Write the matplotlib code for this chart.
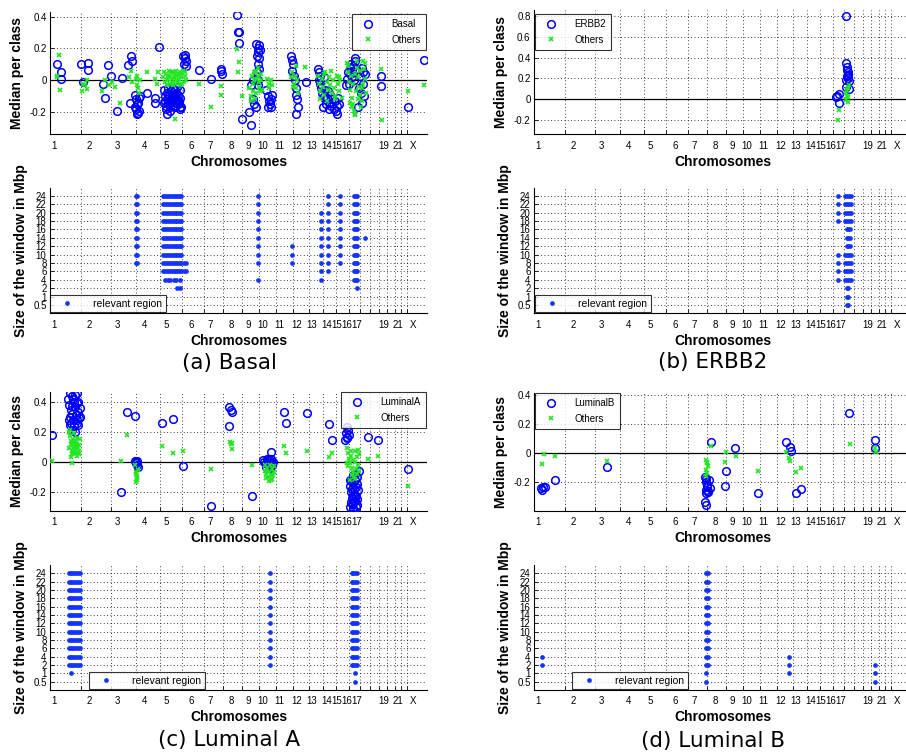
import numpy as np
import matplotlib.pyplot as plt

plt.rcParams['font.family'] = ['Liberation Sans', 'DejaVu Sans']

# chromosome lengths (Mbp, hg18) -> boundaries on the genome axis
chrom_len = [247, 243, 199, 191, 181, 171, 159, 146, 140, 135, 134, 132,
             114, 106, 100, 89, 79, 76, 64, 62, 47, 50, 155]
chrom_start = np.concatenate([[0], np.cumsum(chrom_len)[:-1]])

tick_labels = ['1', '2', '3', '4', '5', '6', '7', '8', '9', '10', '11', '12',
               '13', '14', '15', '16', '17', '19', '21', 'X']
tick_pos = [32, 316, 544, 757, 932, 1130, 1285, 1454, 1593, 1705, 1839, 1976,
            2102, 2217, 2303, 2383, 2463, 2677, 2793, 2913]

win_sizes = [0.5, 1, 2, 4, 6, 8, 10, 12, 14, 16, 18, 20, 22, 24]
win_labels = ['0.5', '1', '2', '4', '6', '8', '10', '12', '14', '16', '18', '20', '22', '24']

# ---------------- (a) Basal ----------------
basal_class = [
    (53, 0.10), (85, 0.05), (85, 0.01),
    (246, 0.10), (305, 0.11), (302, 0.065), (267, -0.01),
    (422, -0.02), (441, -0.11), (462, 0.095), (489, 0.03), (534, -0.195), (574, 0.013),
    (628, 0.095), (649, 0.153), (654, 0.12), (641, -0.145),
    (685, -0.09), (694, -0.12), (700, -0.15), (694, -0.18), (708, -0.205), (716, -0.11),
    (685, -0.17), (708, -0.14), (721, -0.10), (700, -0.21), (716, -0.19),
    (775, -0.08), (841, -0.11), (841, -0.14), (876, 0.21),
    (915, -0.06), (920, -0.10), (925, -0.13), (930, -0.16), (935, -0.08), (940, -0.12),
    (945, -0.15), (950, -0.05), (955, -0.10), (960, -0.14), (965, -0.17), (970, -0.07),
    (975, -0.11), (980, -0.13), (985, -0.09), (990, -0.16), (995, -0.12), (1000, -0.06),
    (1005, -0.10), (1010, -0.14), (1015, -0.08), (1020, -0.12), (1025, -0.15), (1030, -0.09),
    (1035, -0.13), (1040, -0.06), (1045, -0.11), (1050, -0.17), (930, -0.18), (960, -0.19),
    (1000, -0.17), (935, -0.21), (1045, -0.18), (1038, -0.14), (912, -0.14), (950, -0.13),
    (985, -0.05), (1020, -0.04),
    (1068, 0.15), (1080, 0.16), (1090, 0.12), (1075, 0.10), (1095, 0.09), (1085, 0.14),
    (1043, -0.165), (1194, 0.065),
    (1295, 0.01), (1372, 0.07), (1375, 0.06), (1380, 0.04),
    (1503, 0.41), (1505, 0.305), (1517, 0.305), (1517, 0.232), (1538, -0.243),
    (1597, -0.20), (1615, -0.28), (1629, -0.12), (1650, -0.17), (1640, -0.15), (1625, 0.005),
    (1615, -0.03),
    (1656, 0.23), (1665, 0.20), (1669, 0.18), (1675, 0.22), (1660, 0.15), (1678, 0.14),
    (1682, 0.19), (1670, 0.10), (1680, 0.07), (1662, 0.05), (1672, 0.0), (1665, -0.03),
    (1736, -0.06), (1749, -0.10), (1755, -0.13), (1762, -0.15), (1770, -0.17), (1749, -0.17),
    (1784, -0.09), (1776, -0.12),
    (1936, 0.15), (1940, 0.13), (1950, 0.10), (1945, 0.06), (1955, 0.03), (1963, 0.0),
    (1970, -0.05), (1976, -0.09), (1985, -0.12), (1990, -0.17), (1976, -0.21), (2051, -0.01),
    (2150, 0.07), (2160, 0.05), (2170, 0.03), (2155, 0.0), (2165, -0.02), (2175, -0.05),
    (2185, -0.08), (2195, -0.10), (2205, -0.12), (2215, -0.15), (2225, -0.11), (2235, -0.14),
    (2245, -0.09), (2255, -0.16), (2265, -0.12), (2275, -0.18), (2190, -0.17), (2210, -0.06),
    (2240, -0.18), (2285, -0.13), (2295, -0.19), (2300, -0.16), (2305, -0.21), (2310, -0.11),
    (2320, -0.15), (2200, 0.02), (2230, -0.07),
    (2377, -0.03), (2385, 0.01), (2395, 0.05), (2405, 0.08), (2415, 0.10), (2425, 0.06),
    (2435, 0.03), (2445, 0.12), (2450, 0.14), (2430, 0.09), (2410, 0.04), (2440, 0.0),
    (2455, 0.07), (2400, -0.02), (2420, 0.02),
    (2470, -0.17), (2480, -0.05), (2490, 0.03), (2500, 0.08), (2505, -0.14), (2510, 0.05),
    (2520, -0.10), (2530, 0.04), (2515, -0.02), (2495, -0.08),
    (2657, 0.03), (2657, -0.035), (2871, -0.17), (2997, 0.125),
]
basal_others = [
    (75, 0.16), (53, 0.03), (80, -0.06), (60, 0.02),
    (254, -0.07), (299, -0.055), (299, 0.0), (267, -0.02), (280, -0.03),
    (420, -0.07), (440, 0.0), (475, -0.03), (520, -0.04), (560, -0.14), (500, -0.01),
    (630, 0.02), (650, 0.06), (655, -0.01), (690, 0.01), (700, -0.03), (710, -0.05),
    (720, 0.0), (715, -0.08), (700, 0.03),
    (775, 0.05), (841, 0.01), (870, 0.05), (860, -0.02),
    (910, 0.02), (920, -0.01), (930, 0.04), (940, 0.0), (950, 0.03), (960, -0.02),
    (970, 0.05), (980, 0.01), (990, -0.03), (1000, 0.04), (1010, 0.0), (1020, 0.03),
    (1030, -0.01), (1040, 0.05), (1050, 0.02), (1060, -0.02), (1070, 0.06), (1080, 0.03),
    (1090, 0.0), (915, 0.05), (935, -0.03), (955, 0.06), (975, -0.01), (995, 0.02),
    (1015, 0.06), (1035, 0.01), (1055, 0.04), (1075, -0.01), (1085, 0.05), (945, 0.01),
    (965, 0.03), (985, 0.05), (1005, -0.02), (1025, 0.04), (1045, -0.03), (1000, -0.245),
    (1194, -0.02), (1295, -0.17), (1372, -0.035), (1372, -0.09),
    (1503, 0.197), (1514, 0.117), (1511, 0.05), (1538, -0.10),
    (1600, -0.05), (1610, -0.10), (1620, 0.03), (1630, -0.02), (1640, 0.05), (1650, -0.08),
    (1660, 0.01), (1670, 0.08), (1680, -0.04), (1690, 0.04), (1700, -0.06), (1615, -0.13),
    (1635, 0.0), (1655, 0.06), (1675, -0.01), (1695, 0.0), (1625, -0.07), (1645, -0.12),
    (1665, 0.03), (1685, -0.07),
    (1740, 0.01), (1755, -0.02), (1770, 0.0), (1785, -0.03), (1760, -0.05),
    (1936, 0.02), (1945, 0.05), (1955, -0.02), (1965, 0.03), (1975, -0.05), (1985, 0.0),
    (1990, -0.08), (1970, 0.09), (1950, -0.04), (2045, 0.085),
    (2150, 0.03), (2160, -0.02), (2170, -0.07), (2180, 0.01), (2190, -0.04), (2200, -0.09),
    (2210, 0.05), (2220, -0.01), (2230, -0.06), (2240, 0.02), (2250, -0.03), (2260, -0.08),
    (2270, 0.0), (2280, -0.05), (2290, -0.10), (2300, 0.03), (2310, -0.02), (2320, -0.07),
    (2330, 0.0), (2340, -0.11), (2165, -0.12), (2195, 0.04), (2225, -0.13), (2255, 0.06),
    (2285, -0.12), (2315, 0.02),
    (2380, 0.11), (2390, 0.05), (2400, -0.01), (2410, -0.06), (2420, -0.11), (2430, -0.15),
    (2440, -0.19), (2450, -0.21), (2460, 0.08), (2470, 0.02), (2480, -0.04), (2490, -0.09),
    (2500, -0.13), (2510, 0.12), (2520, 0.07), (2530, 0.01), (2535, -0.08), (2395, 0.09),
    (2415, 0.03), (2435, -0.02), (2455, -0.07), (2475, -0.12), (2495, -0.17), (2445, -0.22),
    (2465, 0.12), (2485, 0.06), (2505, -0.05), (2425, -0.17), (2525, 0.11), (2515, -0.02),
    (2405, -0.14), (2445, 0.04),
    (2657, 0.07), (2665, -0.25), (2871, -0.065), (2997, -0.03),
]
basal_regions = [
    ([688, 702], [8, 10, 12, 14, 16, 18, 20, 22, 24]),
    ([910, 925, 940, 955, 970, 985, 1000, 1015, 1030, 1045, 1055], [6, 8, 10, 12, 14, 16, 18, 20, 22, 24]),
    ([1075, 1095], [6, 8]),
    ([925, 945, 965, 995, 1015, 1040], [4]),
    ([1020, 1045], [2]),
    ([1672], [4, 8, 10, 12, 14, 16, 18, 20, 22, 24]),
    ([1938], [8, 10, 12]),
    ([2178], [4, 6, 8, 10, 12, 14, 16, 18, 20]),
    ([2230], [6, 8, 10, 12, 14, 16, 18, 20, 22, 24]),
    ([2328], [8, 10, 12, 14, 16, 18, 20, 22, 24]),
    ([2440, 2452, 2464], [4, 6, 8, 10, 12, 14, 16, 18, 20, 22, 24]),
    ([2462], [2]),
    ([2528], [14]),
]

# ---------------- (b) ERBB2 ----------------
erbb2_class = [
    (2505, 0.806), (2500, 0.35), (2512, 0.31), (2518, 0.26), (2512, 0.22), (2525, 0.17),
    (2506, 0.18), (2525, 0.10), (2505, 0.12), (2520, 0.23), (2515, 0.28), (2522, 0.20),
    (2425, 0.02), (2447, 0.05), (2444, -0.04), (2432, 0.03),
]
erbb2_others = [
    (2444, -0.105), (2440, -0.20), (2505, -0.01), (2518, 0.02), (2512, 0.09), (2525, 0.135),
    (2505, 0.055), (2518, -0.025), (2510, 0.03), (2522, 0.11),
]
erbb2_regions = [
    ([2439], [4, 6, 8, 10, 18, 20, 22, 24]),
    ([2495, 2510, 2525, 2540], [4, 6, 8, 10, 18, 20, 22, 24]),
    ([2508, 2522, 2536], [12, 14, 16]),
    ([2508, 2522], [0.5, 1, 2]),
]

# ---------------- (c) Luminal A ----------------
luma_class = [
    (19, 0.178),
    (147, 0.42), (160, 0.455), (174, 0.435), (200, 0.445), (214, 0.46), (155, 0.38),
    (168, 0.345), (180, 0.32), (200, 0.365), (214, 0.39), (227, 0.40), (160, 0.30),
    (187, 0.28), (207, 0.31), (227, 0.33), (240, 0.36), (165, 0.255), (190, 0.235),
    (214, 0.255), (235, 0.29), (174, 0.21), (200, 0.20), (227, 0.245), (160, 0.245),
    (180, 0.37), (194, 0.40), (220, 0.28), (240, 0.30), (150, 0.28), (187, 0.42),
    (614, 0.333), (681, 0.304), (569, -0.204),
    (681, 0.007), (694, 0.0), (700, -0.022), (690, -0.011), (708, -0.033), (702, 0.005),
    (895, 0.256), (988, 0.282), (1068, -0.029), (1295, -0.293), (1437, 0.362),
    (1450, 0.345), (1464, 0.33), (1437, 0.24), (1624, -0.229),
    (1709, 0.012), (1720, 0.0), (1730, -0.01), (1740, 0.015), (1750, -0.02), (1760, 0.005),
    (1770, -0.03), (1780, -0.01), (1790, 0.0), (1735, -0.035), (1755, 0.02), (1775, 0.018),
    (1765, -0.04), (1745, -0.005), (1776, 0.067), (1785, -0.025),
    (1875, 0.333), (1896, 0.26), (2062, 0.327), (2238, 0.251), (2262, 0.144),
    (2382, 0.233), (2374, 0.19), (2387, 0.167), (2366, 0.144), (2400, 0.178), (2395, 0.21),
    (2380, 0.155),
    (2405, -0.12), (2410, -0.16), (2415, -0.20), (2420, -0.24), (2425, -0.28), (2430, -0.31),
    (2435, -0.14), (2440, -0.18), (2445, -0.22), (2450, -0.26), (2455, -0.30), (2460, -0.10),
    (2465, -0.15), (2470, -0.19), (2412, -0.27), (2428, -0.22), (2442, -0.32), (2448, -0.08),
    (2458, -0.23), (2418, -0.13), (2436, -0.26), (2452, -0.17), (2466, -0.25), (2424, -0.18),
    (2408, -0.30), (2478, -0.06), (2444, -0.12), (2462, -0.29), (2432, -0.09),
    (2550, 0.162), (2630, 0.144), (2871, -0.051),
]
luma_others = [
    (19, 0.004),
    (150, 0.20), (160, 0.17), (170, 0.14), (180, 0.12), (190, 0.10), (200, 0.08),
    (210, 0.06), (220, 0.04), (230, 0.11), (240, 0.15), (155, 0.09), (165, 0.12),
    (175, 0.07), (185, 0.15), (195, 0.13), (205, 0.10), (215, 0.16), (225, 0.09),
    (235, 0.07), (168, 0.03), (180, -0.01), (175, 0.05), (200, 0.12), (210, 0.14),
    (190, 0.06), (220, 0.12), (160, 0.21), (230, 0.05), (185, 0.09), (195, 0.19),
    (569, 0.004), (614, 0.178),
    (681, -0.02), (690, -0.085), (697, -0.096), (702, -0.111), (688, -0.133), (708, -0.056),
    (700, -0.12), (694, -0.07),
    (895, 0.107), (988, 0.06), (1068, 0.073), (1295, -0.051), (1445, 0.133), (1458, 0.122),
    (1464, 0.084), (1450, 0.115), (1624, -0.022),
    (1722, -0.06), (1730, -0.08), (1740, -0.04), (1750, -0.10), (1760, -0.07), (1770, -0.12),
    (1780, -0.05), (1790, -0.09), (1800, -0.03), (1735, -0.11), (1755, -0.13), (1765, -0.02),
    (1775, -0.09), (1785, -0.115), (1745, -0.065), (1795, -0.07), (1728, -0.02),
    (1875, 0.104), (1896, 0.056), (2062, 0.073), (2238, 0.033), (2262, 0.056),
    (2380, 0.089), (2390, 0.06), (2400, 0.02), (2410, -0.01), (2420, -0.04), (2430, -0.07),
    (2440, -0.10), (2450, 0.07), (2460, 0.03), (2470, -0.02), (2480, -0.06), (2395, -0.03),
    (2415, 0.04), (2435, 0.01), (2455, -0.05), (2475, 0.08), (2425, -0.09), (2445, 0.0),
    (2465, -0.08), (2405, -0.12), (2385, -0.01), (2450, -0.115), (2478, 0.05), (2412, 0.07),
    (2550, 0.016), (2630, 0.038), (2871, -0.162),
]
luma_regions = [
    ([150, 165, 180, 195, 210, 225, 237], [2, 4, 6, 8, 10, 12, 14, 16, 18, 20, 22, 24]),
    ([170], [1]),
    ([1766], [2, 4, 6, 8, 10, 12, 14, 16, 18, 20, 22, 24]),
    ([2420, 2435, 2450, 2465], [2, 4, 6, 8, 10, 12, 14, 16, 18, 20, 22, 24]),
    ([2451], [0.5, 1]),
]

# ---------------- (d) Luminal B ----------------
lumb_class = [
    (53, -0.244), (69, -0.237), (88, -0.232), (61, -0.255), (168, -0.186), (585, -0.094),
    (1376, -0.163), (1384, -0.198), (1389, -0.233), (1378, -0.255), (1397, -0.267),
    (1384, -0.278), (1376, -0.336), (1384, -0.359), (1405, -0.186), (1410, -0.244),
    (1392, -0.22), (1400, -0.26), (1380, -0.18),
    (1418, 0.076), (1538, -0.122), (1536, -0.225), (1616, 0.037), (1800, -0.278),
    (2025, 0.076), (2051, 0.044), (2059, 0.014), (2099, -0.274), (2145, -0.25),
    (2527, 0.274), (2740, 0.09), (2740, 0.037),
]
lumb_others = [
    (61, -0.076), (80, -0.007), (168, -0.021), (585, -0.053),
    (1384, -0.048), (1389, -0.071), (1397, -0.090), (1384, -0.117), (1392, -0.14),
    (1378, -0.156), (1386, -0.06),
    (1418, 0.048), (1538, 0.009), (1536, -0.06), (1624, -0.018), (1800, -0.122),
    (2025, 0.009), (2046, -0.037), (2051, -0.055), (2099, -0.129), (2145, -0.106),
    (2532, 0.06), (2740, 0.032), (2745, 0.009),
]
lumb_regions = [
    ([61], [2, 4]),
    ([1384, 1395], [2, 4, 6, 8, 10, 12, 14, 16, 18, 20, 22, 24]),
    ([1384], [0.5, 1]),
    ([2046], [1, 2, 4]),
    ([2740], [0.5, 1, 2]),
]

W, H = 906, 752
fig = plt.figure(figsize=(W / 100, H / 100), dpi=100)

BLUE = '#0000ff'
GREEN = '#22e622'
DOT = '#1433ff'
GRID = dict(color='k', linestyle=(0, (1, 3)), linewidth=0.6)


def px_box(l, t, r, b):
    return [l / W, 1 - b / H, (r - l) / W, (b - t) / H]


def style_axes(ax):
    ax.set_xlim(0, 3025)
    ax.set_xticks(chrom_start[1:])
    ax.set_xticklabels([])
    ax.set_xticks(tick_pos, minor=True)
    ax.set_xticklabels(tick_labels, minor=True)
    ax.tick_params(which='major', direction='in', length=3, width=0.6, labelsize=7)
    ax.tick_params(axis='x', which='minor', length=0, pad=4.5, labelsize=7)
    ax.tick_params(axis='y', pad=2.5)
    ax.grid(True, which='major', **GRID)
    for s in ['top', 'right']:
        ax.spines[s].set_visible(False)
    for s in ['left', 'bottom']:
        ax.spines[s].set_linewidth(0.8)
    ax.set_axisbelow(True)
    ax.set_xlabel('Chromosomes', fontsize=10, fontweight='bold', labelpad=3)


def top_panel(box, ylim, yticks, cls, oth, name, leg):
    ax = fig.add_axes(px_box(*box))
    style_axes(ax)
    ax.axhline(0, color='k', lw=0.9, zorder=1.5)
    cx, cy = zip(*cls)
    ox, oy = zip(*oth)
    ax.plot(cx, cy, 'o', mfc='none', mec=BLUE, ms=5.5, mew=1.1, label=name, zorder=3)
    ax.plot(ox, oy, 'x', color=GREEN, ms=3.5, mew=1.2, label='Others', zorder=3)
    ax.set_ylim(*ylim)
    ax.set_yticks(yticks)
    ax.set_yticklabels(['%g' % v for v in yticks])
    ax.set_ylabel('Median per class', fontsize=10, fontweight='bold', labelpad=4)
    lg = ax.legend(loc=leg[0], bbox_to_anchor=(leg[1] / W, 1 - leg[2] / H),
                   bbox_transform=fig.transFigure, fontsize=7, frameon=True,
                   fancybox=False, borderaxespad=0, borderpad=0.55, handlelength=2.2,
                   handletextpad=1.3, labelspacing=0.55)
    lg.get_frame().set_edgecolor('k')
    lg.get_frame().set_linewidth(0.8)
    return ax


def bottom_panel(box, ylim, regions, leg):
    ax = fig.add_axes(px_box(*box))
    style_axes(ax)
    first = True
    for xs, levels in regions:
        for lv in levels:
            idx = win_sizes.index(lv)
            ax.plot(xs, [idx] * len(xs), 'o', color=DOT, ms=3.4, mec='none', zorder=3,
                    label='relevant region' if first else None)
            first = False
    ax.set_ylim(*ylim)
    ax.set_yticks(range(len(win_sizes)))
    ax.set_yticklabels(win_labels)
    ax.set_ylabel('Size of the window in Mbp', fontsize=10, fontweight='bold', labelpad=4)
    lg = ax.legend(loc='upper left', bbox_to_anchor=(leg[0] / W, 1 - leg[1] / H),
                   bbox_transform=fig.transFigure, fontsize=7.5, frameon=True,
                   fancybox=False, borderaxespad=0, borderpad=0.35, handlelength=2.6,
                   handletextpad=1.2, markerscale=1.0)
    lg.get_frame().set_edgecolor('k')
    lg.get_frame().set_linewidth(0.8)
    return ax


top_panel((50, 11.7, 427, 134.3), (-0.339, 0.431), [-0.2, 0, 0.2, 0.4],
          basal_class, basal_others, 'Basal', ('upper right', 426, 14))
bottom_panel((50, 188.3, 427, 313.3), (-1, 13.9), basal_regions, (50, 295))

top_panel((534, 10, 911, 134.3), (-0.342, 0.86), [-0.2, 0, 0.2, 0.4, 0.6, 0.8],
          erbb2_class, erbb2_others, 'ERBB2', ('upper left', 535, 14))
bottom_panel((534, 188.3, 911, 313.3), (-1, 13.9), erbb2_regions, (535, 295))

top_panel((50, 391.7, 427, 511), (-0.329, 0.467), [-0.2, 0, 0.2, 0.4],
          luma_class, luma_others, 'LuminalA', ('upper right', 426, 392))
bottom_panel((50, 565, 427, 690), (-1, 14), luma_regions, (89, 672))

top_panel((534, 392.7, 911, 511), (-0.40, 0.416), [-0.2, 0, 0.2, 0.4],
          lumb_class, lumb_others, 'LuminalB', ('upper left', 535, 393))
bottom_panel((534, 565, 911, 690), (-1, 14), lumb_regions, (572, 672))

captions = ['(a) Basal', '(b) ERBB2', '(c) Luminal A', '(d) Luminal B']
cap_xy = [(229, 363), (713, 362), (229, 740), (713, 741)]
for txt, (cx, cy) in zip(captions, cap_xy):
    fig.text(cx / W, 1 - cy / H, txt, ha='center', va='center', fontsize=15.5,
             family='DejaVu Sans')

fig.savefig('out.png', dpi=100)
